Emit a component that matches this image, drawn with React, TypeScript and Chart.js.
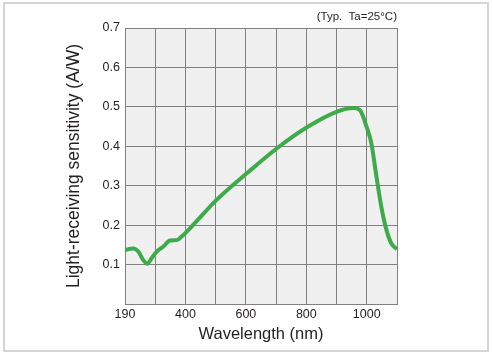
import React, { useEffect, useRef } from "react";
import { Chart, registerables } from "chart.js";

Chart.register(...registerables);

// Wavelength axis: the left edge (labelled 190) sits on the 200 grid position
const wavelengths = [200, 227, 244, 260, 274, 288, 305, 327, 349, 371, 387, 415, 503, 604, 703, 806, 902, 955, 977, 999, 1015, 1032, 1048, 1065, 1081, 1100];
const sensitivity = [0.137, 0.141, 0.133, 0.112, 0.102, 0.116, 0.133, 0.146, 0.161, 0.162, 0.171, 0.192, 0.264, 0.332, 0.395, 0.45, 0.488, 0.497, 0.492, 0.45, 0.408, 0.323, 0.247, 0.188, 0.154, 0.139];
const xTickLabels: Record<number, string> = { 200: "190", 400: "400", 600: "600", 800: "800", 1000: "1000" };
const yTickLabels = ["0.1", "0.2", "0.3", "0.4", "0.5", "0.6", "0.7"];

const TEXT = "#231f20";
const FONT = "'Liberation Sans', Arial, sans-serif";

const bgPlugin = {
  id: "plotBg",
  beforeDraw(chart: any) {
    const { ctx, chartArea } = chart;
    ctx.save();
    ctx.fillStyle = "#f0f0f0";
    ctx.fillRect(chartArea.left, chartArea.top, chartArea.right - chartArea.left, chartArea.bottom - chartArea.top);
    ctx.restore();
  },
  afterDraw(chart: any) {
    const { ctx, chartArea } = chart;
    ctx.save();
    ctx.fillStyle = TEXT;
    ctx.font = "11.5px " + FONT;
    ctx.textAlign = "right";
    ctx.textBaseline = "middle";
    ctx.fillText("(Typ.  Ta=25°C)", chartArea.right, 17);
    ctx.restore();
  },
};

export default function App() {
  const ref = useRef<HTMLCanvasElement>(null);
  useEffect(() => {
    if (!ref.current) return;
    const chart = new Chart(ref.current, {
      type: "line",
      data: {
        datasets: [
          {
            data: wavelengths.map((w, i) => ({ x: w, y: sensitivity[i] })),
            borderColor: "#3dab4a",
            borderWidth: 4,
            pointRadius: 0,
            cubicInterpolationMode: "monotone",
            fill: false,
          },
        ],
      },
      options: {
        animation: false,
        responsive: false,
        events: [],
        layout: { padding: { left: 0, right: 96, top: 28, bottom: 0 } },
        plugins: { legend: { display: false }, tooltip: { enabled: false } },
        scales: {
          x: {
            type: "linear",
            min: 200,
            max: 1100,
            afterFit: (s: any) => { s.height = 52; },
            afterBuildTicks: (s: any) => {
              const t = [];
              for (let v = 200; v <= 1100; v += 100) t.push({ value: v });
              s.ticks = t;
            },
            grid: { color: "#808080", lineWidth: 1, drawTicks: false },
            border: { display: true, color: "#808080", width: 1 },
            ticks: {
              padding: 3,
              color: TEXT,
              font: { family: FONT, size: 12.5 },
              maxRotation: 0,
              autoSkip: false,
              callback: (v: any) => xTickLabels[v] ?? "",
            },
            title: {
              display: true,
              text: "Wavelength (nm)",
              color: TEXT,
              font: { family: FONT, size: 16.5 },
              padding: { top: 0, bottom: 12 },
            },
          },
          y: {
            type: "linear",
            min: 0,
            max: 0.7,
            afterFit: (s: any) => { s.width = 125; },
            grid: { color: "#808080", lineWidth: 1, drawTicks: false },
            border: { display: true, color: "#808080", width: 1 },
            ticks: {
              stepSize: 0.1,
              padding: 5,
              color: TEXT,
              font: { family: FONT, size: 12.5 },
              callback: (v: any) => {
                const k = Math.round(Number(v) * 10);
                return k >= 1 ? yTickLabels[k - 1] : "";
              },
            },
            title: {
              display: true,
              text: "Light-receiving sensitivity (A/W)",
              color: TEXT,
              font: { family: FONT, size: 17.5 },
              padding: { top: 64, bottom: 0 },
            },
          },
        },
      },
      plugins: [bgPlugin],
    } as any);
    return () => chart.destroy();
  }, []);

  return (
    <div style={{ position: "absolute", left: 0, top: 0, width: 493, height: 356, background: "#fff" }}>
      <div
        style={{
          position: "absolute",
          left: 3,
          top: 2,
          width: 486,
          height: 350,
          border: "2px solid #d4d4d4",
          boxSizing: "border-box",
        }}
      />
      <canvas ref={ref} width={493} height={356} style={{ position: "absolute", left: 0, top: 0 }} />
    </div>
  );
}
